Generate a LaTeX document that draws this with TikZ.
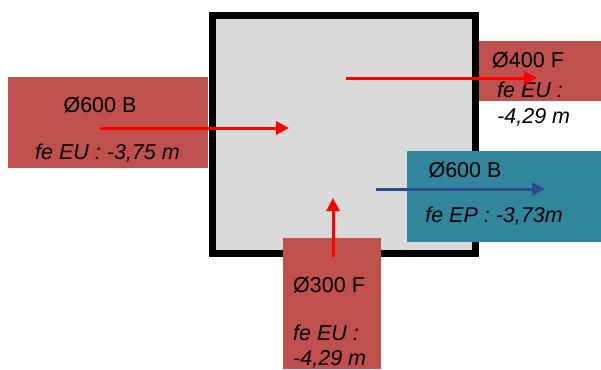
\documentclass[tikz,border=0pt]{standalone}
\usepackage{fontspec}
\setmainfont{Liberation Sans}
\usetikzlibrary{arrows.meta}
\definecolor{boxred}{HTML}{C0504D}
\definecolor{boxblue}{HTML}{31859C}
\definecolor{roomgray}{HTML}{D9D9D9}
\definecolor{arrblue}{HTML}{2A4B8C}
\begin{document}
\begin{tikzpicture}[x=1pt,y=-1pt,
  panel/.style={fill=#1, draw=none, inner sep=0pt, anchor=north west},
  lbl/.style={inner sep=0pt, anchor=base, font=\fontsize{21.5}{26}\selectfont},
  lblw/.style={inner sep=0pt, anchor=base west, font=\fontsize{21.5}{26}\selectfont},
  flow/.style={line width=3pt, -{Triangle[length=13pt,width=13pt]}},
]
\useasboundingbox (0,0) rectangle (601,369);
% panels under the room
\node[panel=boxred, minimum width=200pt, minimum height=91pt] (inbox) at (8,77) {};
\node[panel=boxred, minimum width=126pt, minimum height=60pt] (outbox) at (475,41) {};
% room
\node[fill=roomgray, draw=black, line width=7pt, minimum width=263pt, minimum height=237.5pt, inner sep=0pt, anchor=north west] (room) at (208.5,12.5) {};
% panels over the room
\node[panel=boxblue, minimum width=194pt, minimum height=91pt] (epbox) at (407,151) {};
\node[panel=boxred, minimum width=98pt, minimum height=131pt] (fbox) at (283,238) {};
% labels
\node[lbl] (t1) at (100,112) {Ø600 B};
\node[lbl] (t2) at (107.5,159) {\itshape fe EU : -3,75 m};
\node[lblw] (t3) at (492,67) {Ø400 F};
\node[lblw] (t4) at (497,97) {\itshape fe EU :};
\node[lblw] (t5) at (497,123) {\itshape -4,29 m};
\node[lbl] (t6) at (465,177) {Ø600 B};
\node[lbl] (t7) at (494,222) {\itshape fe EP : -3,73m};
\node[lblw] (t8) at (293,292) {Ø300 F};
\node[lblw] (t9) at (293,340) {\itshape fe EU :};
\node[lblw] (t10) at (293,365) {\itshape -4,29 m};
% arrows
\coordinate (a1s) at (100,128); \coordinate (a1e) at (289,128);
\coordinate (a2s) at (346,78);  \coordinate (a2e) at (537,78);
\coordinate (a3s) at (376,189); \coordinate (a3e) at (545,189);
\coordinate (a4s) at (333,257); \coordinate (a4e) at (333,198);
\draw[flow, red] (a1s) -- (a1e);
\draw[flow, red] (a2s) -- (a2e);
\draw[flow, arrblue] (a3s) -- (a3e);
\draw[flow, red] (a4s) -- (a4e);
\end{tikzpicture}
\end{document}
